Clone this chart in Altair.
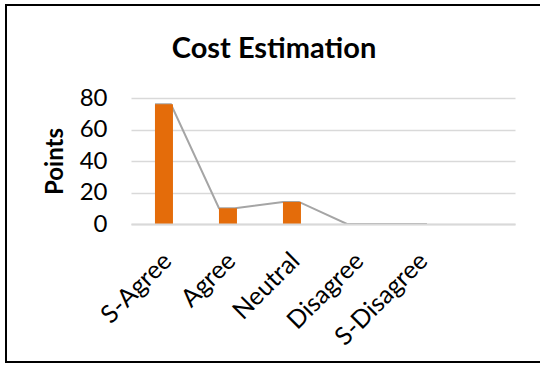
import altair as alt
import pandas as pd

# Survey responses for the cost-estimation question
categories = ["S-Agree", "Agree", "Neutral", "Disagree", "S-Disagree"]
points = [76, 10, 14, 0, 0]

bars = pd.DataFrame({"category": categories, "points": points})

# The trend line runs across each bar top, from its left edge to its right edge
line_rows = []
for i, (c, v) in enumerate(zip(categories, points)):
    for edge in (0, 1):
        line_rows.append({"category": c, "points": v, "edge": edge, "order": i * 2 + edge})
trend = pd.DataFrame(line_rows)

FONT = "Lato"
ORANGE = "#E46C0A"
GREY_LINE = "#A5A5A5"
GRID = "#D9D9D9"

x_scale = alt.Scale(domain=categories, paddingInner=0.75, paddingOuter=0.875, align=0.214)
y_scale = alt.Scale(domain=[0, 80])

x_axis = alt.Axis(
    title=None, labelAngle=-45, labelFontSize=25, labelFont=FONT, labelColor="#000000",
    ticks=False, domainColor=GRID, domainWidth=2, labelPadding=24, labelOffset=-4,
    grid=False, zindex=1,
)
y_axis = alt.Axis(
    title="Points", titleFont=FONT, titleFontSize=24, titleFontWeight="bold", titleColor="#000000",
    labelFont=FONT, labelFontSize=24, labelColor="#000000", values=[0, 20, 40, 60, 80],
    ticks=False, domain=False, gridColor=GRID, gridWidth=1.5, labelPadding=24, titlePadding=12,
)

line = alt.Chart(trend).mark_line(color=GREY_LINE, strokeWidth=2).encode(
    x=alt.X("category:N", scale=x_scale, axis=x_axis, sort=categories),
    xOffset=alt.XOffset("edge:Q", scale=alt.Scale(domain=[0, 1], range=[0, {"expr": "bandwidth('x')"}])),
    y=alt.Y("points:Q", scale=y_scale, axis=y_axis),
    order="order:Q",
)

bar = alt.Chart(bars).mark_bar(color=ORANGE).encode(
    x=alt.X("category:N", scale=x_scale, axis=x_axis, sort=categories),
    y=alt.Y("points:Q", scale=y_scale, axis=y_axis),
)

frame = alt.Chart(alt.Data(values=[{}])).mark_rect(
    fill=None, stroke="#000000", strokeWidth=2
).encode(
    x=alt.value(-125), x2=alt.value(430), y=alt.value(-93), y2=alt.value(264),
)

chart = alt.layer(line, bar, frame).properties(
    width=384, height=126,
    title=alt.TitleParams("Cost Estimation", font=FONT, fontSize=29, fontWeight="bold",
                          color="#000000", dx=-49, offset=-83, baseline="alphabetic"),
    autosize=alt.AutoSizeParams(type="none"),
    padding={"left": 131, "top": 98, "right": 25, "bottom": 141},
    background="#FFFFFF",
).configure_view(stroke=None)

chart.save("out.html", embed_options={"renderer": "svg", "actions": False})
